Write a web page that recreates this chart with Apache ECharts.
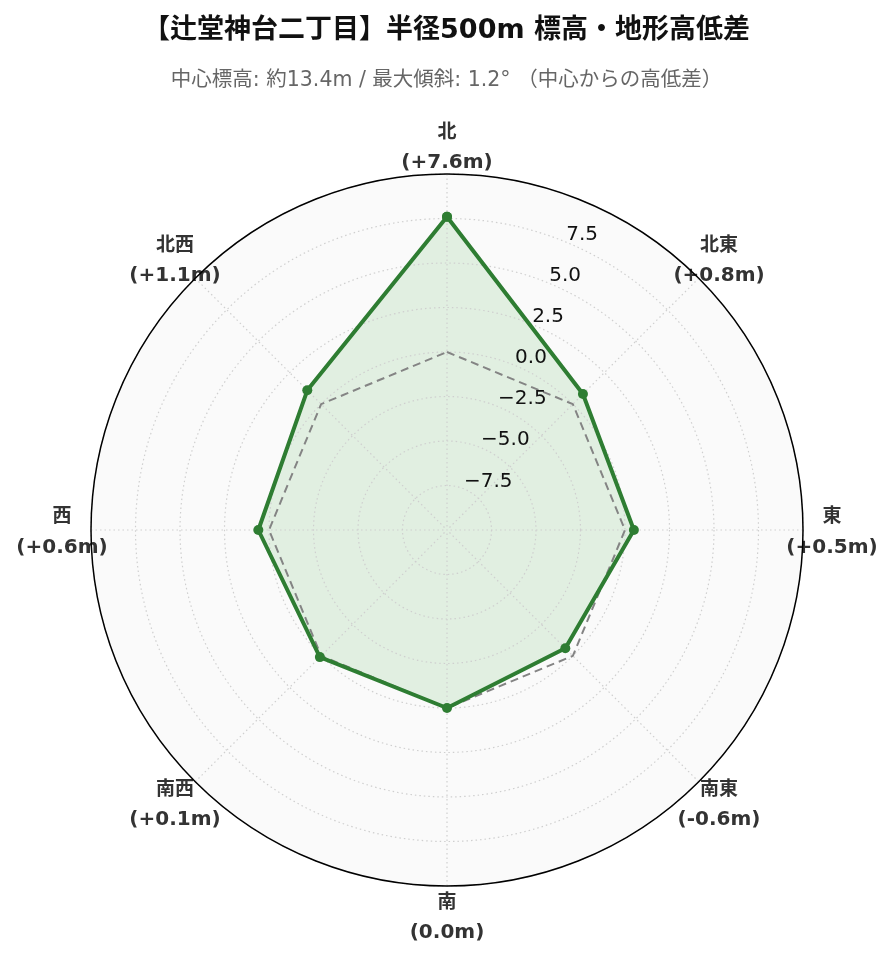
<!DOCTYPE html>
<html><head><meta charset="utf-8">
<script src="https://cdn.jsdelivr.net/npm/echarts@6/dist/echarts.min.js"></script>
<style>html,body{margin:0;padding:0;background:#fff}#c{width:893px;height:962px}</style>
</head><body><div id="c"></div>
<script>
// ---- data ----
const directions = ['北', '北東', '東', '南東', '南', '南西', '西', '北西'];
const elevDiff = [7.6, 0.8, 0.5, -0.6, 0.0, 0.1, 0.6, 1.1];
const zeroRef = [0, 0, 0, 0, 0, 0, 0, 0];
const radialTicks = [-7.5, -5, -2.5, 0, 2.5, 5, 7.5];
const titleText = '【辻堂神台二丁目】半径500m 標高・地形高低差';
const subtitleText = '中心標高: 約13.4m / 最大傾斜: 1.2° （中心からの高低差）';

const angles = directions.map((d, i) => i * 45);
function closed(vals) {
  const pts = vals.map((v, i) => [v, angles[i]]);
  pts.push([vals[0], 360]);
  return pts;
}
function fmtDiff(v) {
  return '(' + (v > 0 ? '+' : '') + v.toFixed(1) + 'm)';
}
// per-direction label layout (spacers to center the two-line block at a fixed distance)
function angleLabel(value) {
  const i = Math.round(value / 45) % 8;
  const n = '{n|' + directions[i] + '}';
  const v = '{v|' + fmtDiff(elevDiff[i]) + '}';
  switch (i) {
    case 0: return n + '\n' + v + '\n{sb| }';
    case 4: return '{st| }\n' + n + '\n' + v;
    case 1: case 7: return n + '\n' + v + '\n{sd| }';
    case 3: case 5: return '{su| }\n' + n + '\n' + v;
    case 2: return '{sm| }\n{hl| }' + n + '\n{hl| }' + v;
    case 6: return '{sm| }\n' + n + '{hr| }\n' + v + '{hr| }';
  }
  return '';
}
const labelFont = "'DejaVu Sans', 'Noto Sans CJK JP', sans-serif";

const chart = echarts.init(document.getElementById('c'), null, {renderer: 'canvas'});
chart.setOption({
  animation: false,
  backgroundColor: '#ffffff',
  title: [
    {text: titleText, left: 'center', top: 12,
     textStyle: {fontSize: 27, fontWeight: 'bold', color: '#111', fontFamily: labelFont}},
    {text: subtitleText, left: 'center', top: 65,
     textStyle: {fontSize: 20.5, fontWeight: 'normal', color: '#666', fontFamily: labelFont}}
  ],
  polar: [
    {center: [447, 530], radius: 356},
    {center: [447, 530], radius: 356}
  ],
  angleAxis: [
    {
      polarIndex: 0, type: 'value', min: 0, max: 360, interval: 45,
      startAngle: 90, clockwise: true, z: 3,
      axisLine: {show: true, lineStyle: {color: '#000', width: 1.5}},
      axisTick: {show: false},
      splitLine: {show: true, lineStyle: {color: '#cfcfcf', width: 1.2, type: [1.5, 3]}},
      axisLabel: {
        show: true, margin: -42, formatter: angleLabel,
        color: '#333', fontFamily: labelFont, fontWeight: 'bold', fontSize: 20,
        rich: {
          n: {width: 100, align: 'center', lineHeight: 30, fontSize: 19, fontWeight: 'bold', color: '#333', fontFamily: labelFont},
          v: {width: 100, align: 'center', lineHeight: 30, fontSize: 20, fontWeight: 'bold', color: '#333', fontFamily: labelFont},
          sb: {lineHeight: 38, fontSize: 10},
          st: {lineHeight: 44, fontSize: 10},
          sd: {lineHeight: 17, fontSize: 10},
          su: {lineHeight: 23, fontSize: 10},
          sm: {lineHeight: 5, fontSize: 4},
          hl: {width: 21, align: 'left', lineHeight: 30, fontSize: 10},
          hr: {width: 21, align: 'right', lineHeight: 30, fontSize: 10}
        }
      }
    },
    {
      polarIndex: 1, type: 'value', min: 0, max: 360, interval: 45,
      startAngle: 67.5, clockwise: true, z: 0,
      axisLine: {show: false}, axisTick: {show: false}, axisLabel: {show: false},
      splitLine: {show: false},
      splitArea: {show: true, areaStyle: {color: ['#fafafa']}}
    }
  ],
  radiusAxis: [
    {
      polarIndex: 0, type: 'value', min: -10, max: 10, interval: 2.5, z: 3,
      axisLine: {show: false}, axisTick: {show: false}, axisLabel: {show: false},
      splitLine: {show: true, lineStyle: {color: '#cfcfcf', width: 1.2, type: [1.5, 3]}}
    },
    {
      polarIndex: 1, type: 'value', min: -10, max: 10, interval: 2.5, z: 10,
      axisLine: {show: false}, axisTick: {show: false}, splitLine: {show: false},
      axisLabel: {
        show: true, margin: 0, align: 'left', verticalAlign: 'bottom',
        fontSize: 20, lineHeight: 15, color: '#111', fontFamily: "'DejaVu Sans', sans-serif",
        formatter: function (v) {
          if (!radialTicks.includes(v)) return '';
          return (v < 0 ? '\u2212' : '') + Math.abs(v).toFixed(1);
        }
      }
    }
  ],
  series: [
    {
      type: 'line', coordinateSystem: 'polar', polarIndex: 0, silent: true,
      data: closed(elevDiff), symbol: 'none', z: 1,
      lineStyle: {width: 0, opacity: 0},
      areaStyle: {color: 'rgba(76,175,80,0.2)', origin: 'start'}
    },
    {
      type: 'line', coordinateSystem: 'polar', polarIndex: 0, silent: true,
      data: closed(zeroRef), symbol: 'none', z: 4,
      lineStyle: {color: '#848484', width: 2, type: [8, 5]}
    },
    {
      type: 'line', coordinateSystem: 'polar', polarIndex: 0,
      data: closed(elevDiff), symbol: 'circle', symbolSize: 10, z: 5,
      itemStyle: {color: '#2e7d32'},
      lineStyle: {color: '#2e7d32', width: 4}
    }
  ]
});
</script>
</body></html>
